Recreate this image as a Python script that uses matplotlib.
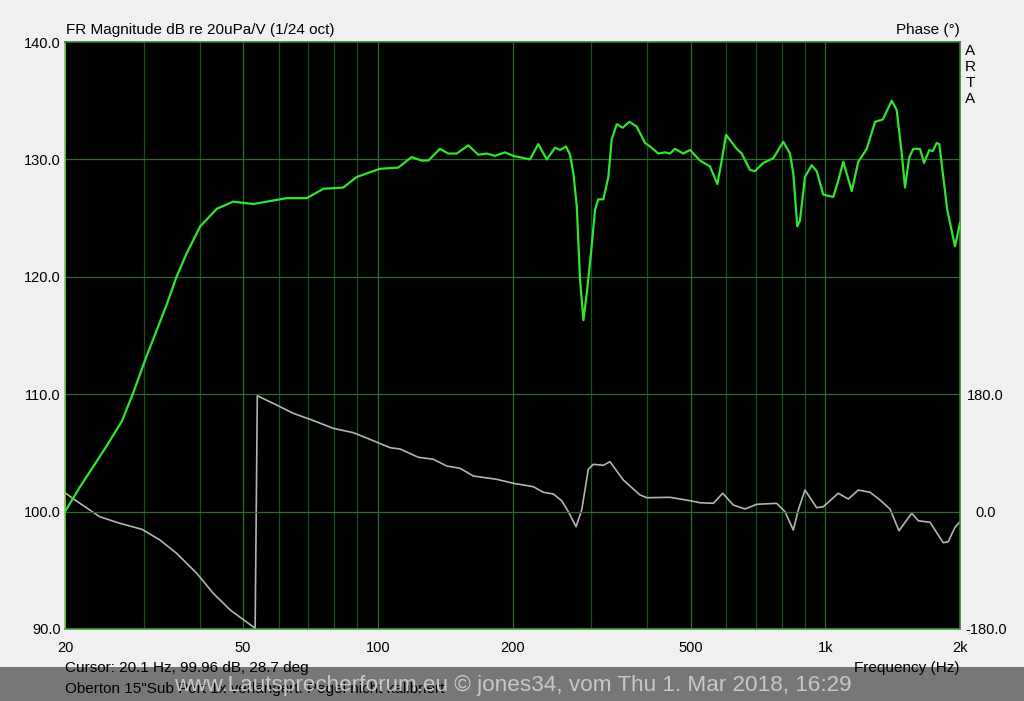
import matplotlib
matplotlib.use("Agg")
import matplotlib.pyplot as plt
from matplotlib.patches import Rectangle
import numpy as np

plt.rcParams['font.family'] = ['Liberation Sans', 'DejaVu Sans']

# ---- data ----
fr_freq = [20.0, 21.6, 24.6, 26.8, 28.4, 30.4, 32.1, 33.8, 35.5, 37.4, 40.1, 43.7, 47.5,
           52.7, 58.4, 62.6, 69.4, 75.6, 83.7, 89.7, 101.1, 111.1, 119.0, 125.3, 129.7,
           137.7, 143.7, 150.1, 159.3, 167.7, 175.1, 182.8, 192.4, 200.8, 218.8, 228.4,
           238.6, 249.0, 255.4, 263.4, 268.9, 273.6, 278.4, 283.2, 288.1, 293.1, 300.6,
           305.8, 311.0, 319.2, 327.5, 333.2, 342.0, 352.7, 364.8, 378.9, 395.6, 405.9,
           423.6, 438.4, 449.8, 461.5, 481.6, 498.6, 524.8, 552.6, 573.8, 587.0, 600.0,
           634.0, 650.5, 678.8, 696.5, 726.8, 765.2, 805.6, 833.9, 848.3, 865.8, 878.0,
           900.8, 932.4, 956.7, 989.8, 1042, 1069, 1097, 1146, 1185, 1238, 1292, 1344,
           1408, 1444, 1482, 1507, 1541, 1573, 1628, 1662, 1708, 1738, 1774, 1798, 1873,
           1949, 2000]
fr_db = [100.0, 102.1, 105.4, 107.7, 110.1, 113.2, 115.5, 117.7, 120.0, 122.0, 124.3, 125.8,
         126.4, 126.2, 126.5, 126.7, 126.7, 127.5, 127.6, 128.5, 129.2, 129.3, 130.2, 129.9,
         129.9, 130.9, 130.5, 130.5, 131.2, 130.4, 130.5, 130.3, 130.6, 130.3, 130.0, 131.3,
         130.0, 131.0, 130.8, 131.1, 130.4, 128.8, 126.0, 119.7, 116.3, 118.6, 122.6, 125.7,
         126.6, 126.6, 128.5, 131.7, 133.0, 132.7, 133.2, 132.8, 131.4, 131.1, 130.5, 130.6,
         130.5, 130.9, 130.5, 130.8, 129.9, 129.4, 127.9, 129.9, 132.1, 130.9, 130.5, 129.1,
         129.0, 129.7, 130.1, 131.5, 130.5, 128.8, 124.3, 124.8, 128.5, 129.5, 129.0, 127.0,
         126.8, 128.2, 129.8, 127.3, 129.8, 130.9, 133.2, 133.4, 135.0, 134.2, 130.5, 127.6,
         130.2, 130.9, 130.9, 129.7, 130.8, 130.7, 131.4, 131.3, 125.7, 122.6, 124.6]

ph_freq = [20.0, 20.9, 23.9, 26.5, 29.7, 32.6, 35.5, 39.4, 42.9, 46.8, 53.2, 53.8, 59.4, 64.7,
           70.6, 79.5, 88.2, 97.7, 106.5, 112.1, 123.2, 133.1, 142.6, 152.7, 163.5, 184.4,
           200.8, 222.6, 234.4, 246.8, 257.7, 266.6, 277.4, 285.6, 295.4, 303.1, 319.2, 330.3,
           353.6, 366.0, 385.5, 399.0, 449.8, 498.6, 524.8, 562.0, 590.0, 623.0, 661.6, 702.6,
           778.8, 812.6, 848.3, 870.4, 900.8, 956.7, 989.8, 1069, 1126, 1185, 1259, 1325,
           1395, 1461, 1560, 1614, 1714, 1835, 1883, 1949, 2000]
ph_deg = [29.0, 19.3, -7.8, -17.9, -27.1, -43.5, -63.9, -94.6, -125.3, -150.9, -178.9, 177.7,
          163.4, 150.7, 141.5, 127.7, 121.0, 108.7, 98.0, 96.0, 83.3, 80.2, 69.9, 66.4, 54.6,
          49.5, 43.4, 38.2, 29.6, 27.0, 16.7, -0.2, -23.1, 2.5, 64.9, 72.5, 71.0, 76.5, 48.5,
          39.3, 25.5, 21.3, 21.9, 16.7, 13.6, 12.7, 28.1, 10.1, 4.0, 11.2, 12.7, -0.2, -28.2,
          2.5, 33.1, 6.0, 7.5, 28.1, 19.3, 33.1, 29.6, 17.8, 4.0, -29.3, -2.6, -14.0, -16.4,
          -47.7, -46.1, -24.1, -15.5]

x_ticks = [20, 50, 100, 200, 500, 1000, 2000]
x_ticklabels = ['20', '50', '100', '200', '500', '1k', '2k']
y_ticks = [90, 100, 110, 120, 130, 140]
ph_ticks = [-180, 0, 180]

BG = '#f0f0f0'
fig = plt.figure(figsize=(10.24, 7.01), dpi=100, facecolor=BG)
ax = fig.add_axes([65/1024, 1-629/701, 895/1024, 587/701])
ax.set_xscale('log')
ax.set_xlim(20, 2000)
ax.set_ylim(90, 140)

# phase on secondary axis (90 dB <-> -180 deg, 110 dB <-> +180 deg)
ax2 = ax.twinx()
ax2.set_ylim(-180, 720)
ax2.set_xlim(20, 2000)
ax2.patch.set_visible(True)
ax2.patch.set_facecolor('black')

# grid (drawn on the back axes)
minor_x = [30, 40, 60, 70, 80, 90, 300, 400, 600, 700, 800, 900]
major_x = [50, 100, 200, 500, 1000]
for xv in minor_x:
    ax2.axvline(xv, color='#1c4f1c', lw=0.9, zorder=1)
for xv in major_x:
    ax2.axvline(xv, color='#2b6e2b', lw=0.9, zorder=1)
for yv in y_ticks[1:-1]:
    ax.axhline(yv, color='#2b6e2b', lw=0.9, zorder=1)

ax2.plot(ph_freq, ph_deg, color='#b4b4b4', lw=1.2, zorder=3)
ax2.set_yticks(ph_ticks)
ax2.set_yticklabels(['-180.0', '0.0', '180.0'])
ax2.tick_params(axis='y', length=0, pad=18.5, labelsize=10.5, colors='#000000')
for lab in ax2.get_yticklabels():
    lab.set_horizontalalignment('center')
for s in ax2.spines.values():
    s.set_visible(False)

ax.plot(fr_freq, fr_db, color='#2ee62e', lw=1.6, zorder=4)
ax.set_zorder(ax2.get_zorder() + 1)
ax.patch.set_visible(False)

for s in ['top', 'right']:
    ax.spines[s].set_color('#2f7f2f')
ax.spines['left'].set_color('#7fd040')
ax.spines['bottom'].set_color('#3fa03f')
for s in ax.spines.values():
    s.set_linewidth(1.2)

ax.set_xticks(x_ticks)
ax.set_xticklabels(x_ticklabels)
ax.xaxis.set_minor_locator(matplotlib.ticker.NullLocator())
ax2.xaxis.set_minor_locator(matplotlib.ticker.NullLocator())
ax.set_yticks(y_ticks)
ax.set_yticklabels([f'{v:.1f}' for v in y_ticks])
ax.tick_params(axis='both', length=0, labelsize=10.5, colors='#000000')
ax.tick_params(axis='x', pad=9)
ax.tick_params(axis='y', pad=3)

# texts
fs = 11
fig.text(66/1024, 1-30/701, 'FR Magnitude dB re 20uPa/V (1/24 oct)', fontsize=fs, va='center', ha='left')
fig.text(960/1024, 1-30/701, 'Phase (°)', fontsize=fs, va='center', ha='right')
for i, ch in enumerate('ARTA'):
    fig.text(970/1024, 1-(51+16*i)/701, ch, fontsize=fs, va='center', ha='center')
fig.text(65/1024, 1-668/701, 'Cursor: 20.1 Hz, 99.96 dB, 28.7 deg', fontsize=fs, va='center', ha='left')
fig.text(65/1024, 1-689/701, 'Oberton 15"Sub Port 1x verlängert. Pegel nicht kalibriert', fontsize=fs, va='center', ha='left')
fig.text(960/1024, 1-668/701, 'Frequency (Hz)', fontsize=fs, va='center', ha='right')

# watermark band
fig.patches.append(Rectangle((0, 0), 1, 34/701, transform=fig.transFigure,
                             facecolor='black', alpha=0.5, edgecolor='none', zorder=10))
fig.text(513/1024, 1-685/701, 'www.Lautsprecherforum.eu © jones34, vom Thu 1. Mar 2018, 16:29',
         fontsize=16.2, color='#c8c8c8', va='center', ha='center', zorder=11)

fig.savefig('out.png', dpi=100, facecolor=BG)
